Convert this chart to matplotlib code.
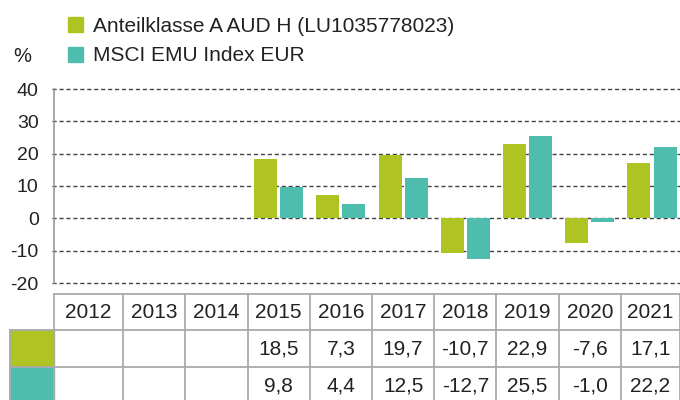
import numpy as np
import matplotlib
matplotlib.use("Agg")
import matplotlib.pyplot as plt
from matplotlib.patches import Patch, Rectangle
from matplotlib.transforms import blended_transform_factory

plt.rcParams['font.family'] = ['Liberation Sans', 'DejaVu Sans']

years = ["2012", "2013", "2014", "2015", "2016", "2017", "2018", "2019", "2020", "2021"]
fund = [np.nan, np.nan, np.nan, 18.5, 7.3, 19.7, -10.7, 22.9, -7.6, 17.1]
index = [np.nan, np.nan, np.nan, 9.8, 4.4, 12.5, -12.7, 25.5, -1.0, 22.2]
series_names = ["Anteilklasse A AUD H (LU1035778023)", "MSCI EMU Index EUR"]
colors = ["#AFC322", "#4FBDAE"]
yticks = [-20, -10, 0, 10, 20, 30, 40]
txt = "#222222"

W, H = 680, 400
fig = plt.figure(figsize=(W / 100, H / 100), dpi=100)
ax = fig.add_axes([54 / W, (H - 283) / H, 626 / W, 194 / H])

x = np.arange(len(years))
bw = 0.37
ax.bar(x - 0.21, fund, bw, color=colors[0], zorder=3)
ax.bar(x + 0.21, index, bw, color=colors[1], zorder=3)

x_left, x_right = -0.61, 9.45
ax.set_xlim(x_left, x_right)
ax.set_ylim(-20, 40)
ax.set_yticks(yticks)
ax.set_yticklabels([str(t) for t in yticks], fontsize=14, color=txt)
ax.set_xticks([])
for s in ["top", "right", "bottom"]:
    ax.spines[s].set_visible(False)
ax.spines["left"].set_color("#999999")
ax.spines["left"].set_linewidth(1.2)
ax.tick_params(axis="y", length=0, pad=11)
for t in yticks:
    ax.plot([x_left - 0.04, x_right], [t, t], ls=(0, (3, 2)), color="#444444", lw=1.0,
            zorder=2, clip_on=False)

# table below the chart, x in data units, y in figure pixels
tr = blended_transform_factory(ax.transData, fig.transFigure)
px = lambda p: (H - p) / H

fig.text(13 / W, px(56), "%", fontsize=14.5, color=txt, va="center", ha="left")

rows_y = [294, 330, 367, 404]
edges = [x_left] + [i - 0.5 for i in range(1, len(years))] + [x_right]
grid_kw = dict(color="#aaaaaa", lw=1.3, transform=tr, clip_on=False)
for yy in rows_y:
    ax.plot([x_left, x_right], [px(yy), px(yy)], **grid_kw)
for e in edges:
    ax.plot([e, e], [px(rows_y[0]), px(rows_y[-1])], **grid_kw)
# swatch column
sw_left = x_left - 44 / 62.2
for yy in rows_y[1:]:
    ax.plot([sw_left, x_left], [px(yy), px(yy)], **grid_kw)
ax.plot([sw_left, sw_left], [px(rows_y[1]), px(rows_y[-1])], **grid_kw)
for r, c in enumerate(colors):
    ax.add_patch(Rectangle((sw_left, px(rows_y[r + 2])), x_left - sw_left,
                           px(rows_y[r + 1]) - px(rows_y[r + 2]), color=c,
                           transform=tr, clip_on=False, zorder=1))

centers = [(edges[i] + edges[i + 1]) / 2 for i in range(len(years))]
fmt = lambda v: "" if np.isnan(v) else f"{v:.1f}".replace(".", ",")
for i, yr in enumerate(years):
    ax.text(centers[i], px(312), yr, transform=tr, ha="center", va="center",
            fontsize=15, color=txt)
    ax.text(centers[i], px(349), fmt(fund[i]), transform=tr, ha="center", va="center",
            fontsize=15, color=txt)
    ax.text(centers[i], px(386), fmt(index[i]), transform=tr, ha="center", va="center",
            fontsize=15, color=txt)

handles = [Patch(color=c, label=n) for c, n in zip(colors, series_names)]
fig.legend(handles=handles, loc="upper left", bbox_to_anchor=(68 / W, 1 - 17 / H),
           frameon=False, fontsize=15, handlelength=0.72, handleheight=0.72,
           handletextpad=0.5, labelspacing=0.5, borderpad=0, borderaxespad=0,
           labelcolor=txt)

fig.savefig("out.png", dpi=100)
